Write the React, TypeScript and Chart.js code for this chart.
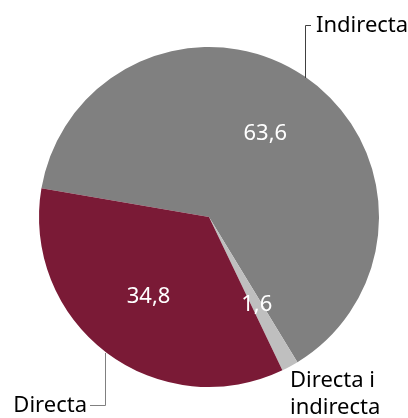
import React, { useEffect, useRef } from "react";
import { Chart, registerables } from "chart.js";

Chart.register(...registerables);

const categories = ["Indirecta", "Directa i indirecta", "Directa"];
const values = [63.6, 1.6, 34.8];
const valueLabels = ["63,6", "1,6", "34,8"];
const colors = ["#808080", "#BFBFBF", "#7A1A36"];

const FONT = "'Noto Sans', 'Open Sans', sans-serif";

const labelPlugin = {
  id: "pieLabels",
  afterDraw(chart: any) {
    const ctx = chart.ctx;
    const meta = chart.getDatasetMeta(0);
    ctx.save();
    ctx.fillStyle = "#ffffff";
    ctx.font = `22px ${FONT}`;
    ctx.textAlign = "center";
    ctx.textBaseline = "middle";
    meta.data.forEach((arc: any, i: number) => {
      const { x, y, startAngle, endAngle, outerRadius } = arc.getProps(
        ["x", "y", "startAngle", "endAngle", "outerRadius"],
        true
      );
      const mid = (startAngle + endAngle) / 2;
      const r = outerRadius * 0.59;
      ctx.fillText(valueLabels[i], x + Math.cos(mid) * r, y + Math.sin(mid) * r);
    });

    // outer category labels
    ctx.fillStyle = "#000000";
    ctx.textAlign = "left";
    ctx.font = `22px ${FONT}`;
    ctx.fillText(categories[0], 316, 26);
    ctx.fillText("Directa i", 290, 381);
    ctx.fillText("indirecta", 290, 408);
    ctx.textAlign = "right";
    ctx.fillText(categories[2], 87, 406);

    // leader lines
    ctx.strokeStyle = "#404040";
    ctx.lineWidth = 1;
    ctx.beginPath();
    ctx.moveTo(311, 25.5);
    ctx.lineTo(305.5, 25.5);
    ctx.lineTo(305.5, 78);
    ctx.stroke();
    ctx.strokeStyle = "#808080";
    ctx.beginPath();
    ctx.moveTo(90, 405.5);
    ctx.lineTo(105.5, 405.5);
    ctx.lineTo(105.5, 353);
    ctx.stroke();
    ctx.restore();
  },
};

export default function App() {
  const ref = useRef<HTMLCanvasElement>(null);
  useEffect(() => {
    document.body.style.margin = "0";
    const chart = new Chart(ref.current!, {
      type: "pie",
      data: {
        labels: categories,
        datasets: [
          {
            data: values,
            backgroundColor: colors,
            borderWidth: 0,
          },
        ],
      },
      options: {
        animation: false,
        responsive: false,
        rotation: 279.7,
        layout: { padding: { left: 39, right: 29, top: 47, bottom: 31 } },
        plugins: {
          legend: { display: false },
          tooltip: { enabled: false },
        },
      },
      plugins: [labelPlugin],
    });
    return () => chart.destroy();
  }, []);
  return (
    <div style={{ width: 408, height: 418 }}>
      <canvas ref={ref} width={408} height={418} />
    </div>
  );
}
